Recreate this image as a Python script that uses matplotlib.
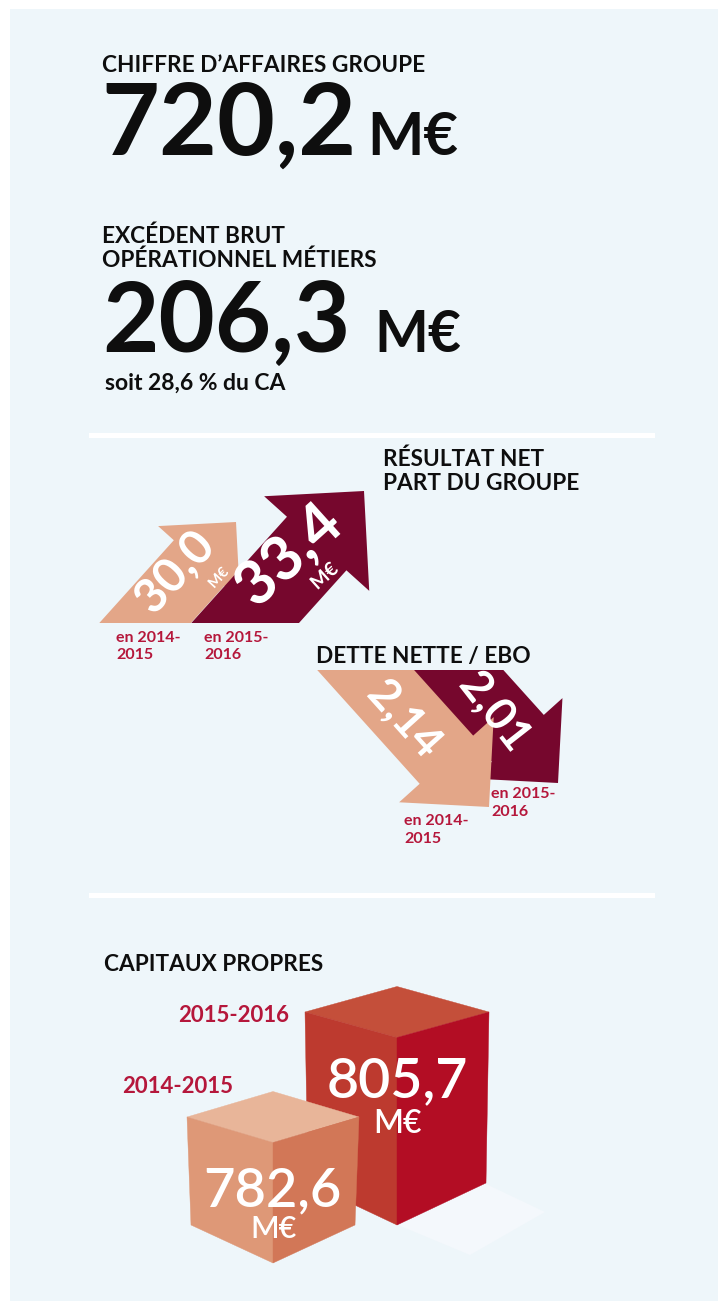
import numpy as np
import matplotlib
matplotlib.use("Agg")
import matplotlib.pyplot as plt
from matplotlib.patches import Polygon, Rectangle, PathPatch
from matplotlib.textpath import TextPath
from matplotlib.font_manager import FontProperties
from matplotlib.transforms import Affine2D

# ---------------- data ----------------
ca_title = "CHIFFRE D\u2019AFFAIRES GROUPE"
ca_value = 720.2
ebo_title = ["EXC\u00c9DENT BRUT", "OP\u00c9RATIONNEL M\u00c9TIERS"]
ebo_value = 206.3
ebo_share = 28.6
resultat_title = ["R\u00c9SULTAT NET", "PART DU GROUPE"]
resultat_years = [["en 2014-", "2015"], ["en 2015-", "2016"]]
resultat_values = [30.0, 33.4]
dette_title = "DETTE NETTE / EBO"
dette_years = [["en 2014-", "2015"], ["en 2015-", "2016"]]
dette_values = [2.14, 2.01]
capitaux_title = "CAPITAUX PROPRES"
capitaux_years = ["2014-2015", "2015-2016"]
capitaux_values = [782.6, 805.7]
unit = "M\u20ac"


def fr(v, nd=1):
    return f"{v:.{nd}f}".replace(".", ",")


# ---------------- style ----------------
FONT = "Lato"
BG = "#EEF6FA"
BLACK = "#0E0E0E"
RED = "#B5173B"
LIGHT = "#E3A688"
DARK = "#76072D"
WHITE = "#FFFFFF"
HEAD = 16.3

W, H = 718, 1301
fig = plt.figure(figsize=(W / 100, H / 100), dpi=100)
fig.patch.set_facecolor("white")
ax = fig.add_axes([0, 0, 1, 1])
ax.set_xlim(0, W)
ax.set_ylim(H, 0)
ax.axis("off")

ax.add_patch(Rectangle((10, 9), W - 10, H - 9, facecolor=BG, edgecolor="none", zorder=0))
for yl in (433, 893):
    ax.add_patch(Rectangle((89, yl), 566, 5, facecolor="white", edgecolor="none", zorder=1))


def txt(x, y, s, size, color=BLACK, weight="bold", ha="left", **kw):
    ax.text(x, y, s, fontsize=size, color=color, fontweight=weight, ha=ha,
            va="baseline", family=FONT, zorder=5, **kw)


# ---------------- top figures ----------------
txt(102, 72, ca_title, HEAD)
txt(101, 155, fr(ca_value), 72)
txt(367, 155, unit, 43)

txt(102, 243, ebo_title[0], HEAD)
txt(102, 267, ebo_title[1], HEAD)
txt(102, 352, fr(ebo_value), 70)
txt(374, 352, unit, 41)
txt(105, 390, f"soit {fr(ebo_share)} % du CA", 16.5)


# ---------------- arrows ----------------
def arrow_poly(tip, angle, L, w, base_y):
    a = np.deg2rad(angle)
    d = np.array([np.cos(a), -np.sin(a)])
    p = np.array([-d[1], d[0]])
    T = np.array(tip, float)
    c = np.cos(np.pi / 4)
    Wm = T + L * (-d * c - p * c)
    Wp = T + L * (-d * c + p * c)
    M = T - L * c * d
    Nm = M - (w / 2) * p
    Np = M + (w / 2) * p
    Bm = Nm - ((Nm[1] - base_y) / d[1]) * d
    Bp = Np - ((Np[1] - base_y) / d[1]) * d
    return np.array([Bm, Nm, Wm, T, Wp, Np, Bp])


def text_path(x, y, s, size_pt, angle, color=WHITE, weight="bold"):
    prop = FontProperties(family=FONT, weight=weight)
    tp = TextPath((0, 0), s, size=size_pt * 100 / 72, prop=prop)
    bb = tp.get_extents()
    cx, cy = (bb.x0 + bb.x1) / 2, (bb.y0 + bb.y1) / 2
    tr = Affine2D().translate(-cx, -cy).scale(1, -1).rotate_deg(-angle).translate(x, y)
    ax.add_patch(PathPatch(tr.transform_path(tp), facecolor=color, edgecolor="none",
                           zorder=6))


txt(383, 466, resultat_title[0], HEAD)
txt(383, 490, resultat_title[1], HEAD)

# up arrows (results)
ax.add_patch(Polygon(arrow_poly((236, 522), 48, 78, 68, 623), closed=True,
                     facecolor=LIGHT, edgecolor="none", zorder=2))
ax.add_patch(Polygon(arrow_poly((364, 491), 48, 100, 80, 623), closed=True,
                     facecolor=DARK, edgecolor="none", zorder=3))
text_path(175, 573, fr(resultat_values[0]), 34, 47)
text_path(218, 577, unit, 10.5, 47)
text_path(289, 556, fr(resultat_values[1]), 44, 42)
text_path(324, 575, unit, 14, 42)

for (x0, (l1, l2)) in zip((116, 204), resultat_years):
    txt(x0, 642, l1, 11.5, color=RED)
    txt(x0, 659, l2, 11.5, color=RED)

# down arrows (debt)
txt(316, 663, dette_title, HEAD)
ax.add_patch(Polygon(arrow_poly((558, 783), -48, 85, 70, 670), closed=True,
                     facecolor=DARK, edgecolor="none", zorder=2))
ax.add_patch(Polygon(arrow_poly((489, 807), -48, 90, 72, 670), closed=True,
                     facecolor=LIGHT, edgecolor="none", zorder=3))
text_path(405, 719, fr(dette_values[0], 2), 32, -48)
text_path(495, 711, fr(dette_values[1], 2), 32, -52)

for (x0, yb, (l1, l2)) in zip((404, 491), (825, 798), dette_years):
    txt(x0, yb, l1, 11.5, color=RED)
    txt(x0, yb + 18, l2, 11.5, color=RED)


# ---------------- cubes ----------------
def cube(cx, hw_top, y_top, dep_top, hw_bot, y_bot, dep_bot, cols):
    top = [(cx - hw_top, y_top), (cx, y_top - dep_top), (cx + hw_top, y_top), (cx, y_top + dep_top)]
    left = [(cx - hw_top, y_top), (cx, y_top + dep_top), (cx, y_bot + dep_bot), (cx - hw_bot, y_bot)]
    right = [(cx, y_top + dep_top), (cx + hw_top, y_top), (cx + hw_bot, y_bot), (cx, y_bot + dep_bot)]
    for poly, c in zip((top, left, right), cols):
        ax.add_patch(Polygon(poly, closed=True, facecolor=c, edgecolor=c, lw=0.3, zorder=2))


txt(104, 971, capitaux_title, HEAD)

# faint reflection to the right of the tall cube
ax.add_patch(Polygon([(398, 1225), (484, 1183), (545, 1212), (470, 1255)], closed=True,
                     facecolor="#F4F8FC", edgecolor="none", zorder=1))

cube(397, 92, 1012, 25.5, 89, 1183, 42, ("#C44F3A", "#BD3A2F", "#B30D24"))
cube(273, 86, 1117, 25.5, 82, 1225, 38, ("#E8B599", "#DE9877", "#D27757"))

ax.text(397, 1097, fr(capitaux_values[1]), fontsize=40, color=WHITE, fontweight="semibold",
        ha="center", va="baseline", family=FONT, zorder=6)
ax.text(398, 1133, unit, fontsize=23, color=WHITE, fontweight="semibold",
        ha="center", va="baseline", family=FONT, zorder=6)
ax.text(272, 1206, fr(capitaux_values[0]), fontsize=39, color=WHITE, fontweight="semibold",
        ha="center", va="baseline", family=FONT, zorder=6)
ax.text(274, 1238, unit, fontsize=22, color=WHITE, fontweight="semibold",
        ha="center", va="baseline", family=FONT, zorder=6)

txt(178, 1022, capitaux_years[1], 16, color=RED)
txt(122, 1093, capitaux_years[0], 16, color=RED)

fig.savefig("out.png", dpi=100, facecolor="white")
